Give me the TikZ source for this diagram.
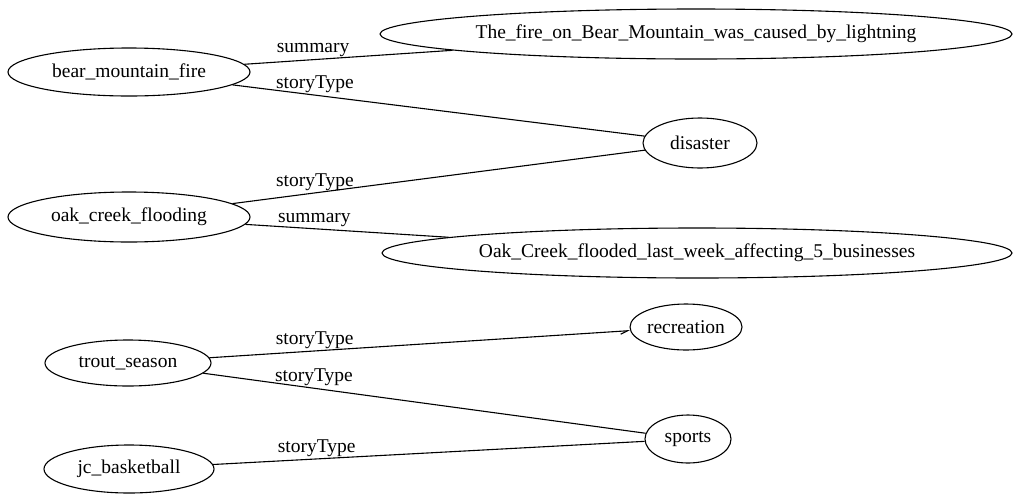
\documentclass[tikz,border=0pt]{standalone}
\usepackage{fontspec}
\setmainfont{Liberation Serif}
\usetikzlibrary{shapes.geometric,arrows.meta}
\tikzset{
	ent/.style={draw, ellipse, inner sep=0pt, line width=1.1pt},
	lbl/.style={inner sep=2pt, above},
	rel/.style={line width=1.1pt}
}

\begin{document}
\begin{tikzpicture}[x=1pt, y=-1pt, font=\fontsize{19.5}{21}\selectfont]
		%%%%% START %%%%%
		
		\useasboundingbox (0, 0) rectangle (1017, 499);
		
		\node[ent, minimum width=242, minimum height=48] (bearfire) at (129, 72) {bear\_mountain\_fire};
		\node[ent, minimum width=632, minimum height=50] (firesum) at (696, 34) {The\_fire\_on\_Bear\_Mountain\_was\_caused\_by\_lightning};
		\node[ent, minimum width=114, minimum height=50] (disaster) at (700, 143) {disaster};
		
		\node[ent, minimum width=242, minimum height=50] (oakflood) at (129, 217) {oak\_creek\_flooding};
		\node[ent, minimum width=630, minimum height=50] (floodsum) at (697, 253) {Oak\_Creek\_flooded\_last\_week\_affecting\_5\_businesses};
		
		\node[ent, minimum width=166, minimum height=46] (trout) at (128, 363) {trout\_season};
		\node[ent, minimum width=112, minimum height=46] (recreation) at (686, 327) {recreation};
		\node[ent, minimum width=86, minimum height=48] (sports) at (688, 439) {sports};
		\node[ent, minimum width=170, minimum height=48] (jcball) at (129, 469) {jc\_basketball};
		
		\draw[rel] (bearfire) -- node[lbl, pos=0.33] {summary} (firesum);
		\draw[rel] (bearfire) -- node[lbl, pos=0.2] {storyType} (disaster);
		\draw[rel] (oakflood) -- node[lbl, pos=0.2] {storyType} (disaster);
		\draw[rel] (oakflood) -- node[lbl, pos=0.34] {summary} (floodsum);
		
		\draw[rel, -{Straight Barb[harpoon, swap, length=7pt, width=6pt]}] (trout) -- node[lbl, pos=0.25] {storyType} (recreation);
		\draw[rel] (trout) -- node[lbl, pos=0.25] {storyType} (sports);
		\draw[rel] (jcball) -- node[lbl, pos=0.24] {storyType} (sports);
		
		%%%%% END %%%%%
	\end{tikzpicture}
\end{document}
